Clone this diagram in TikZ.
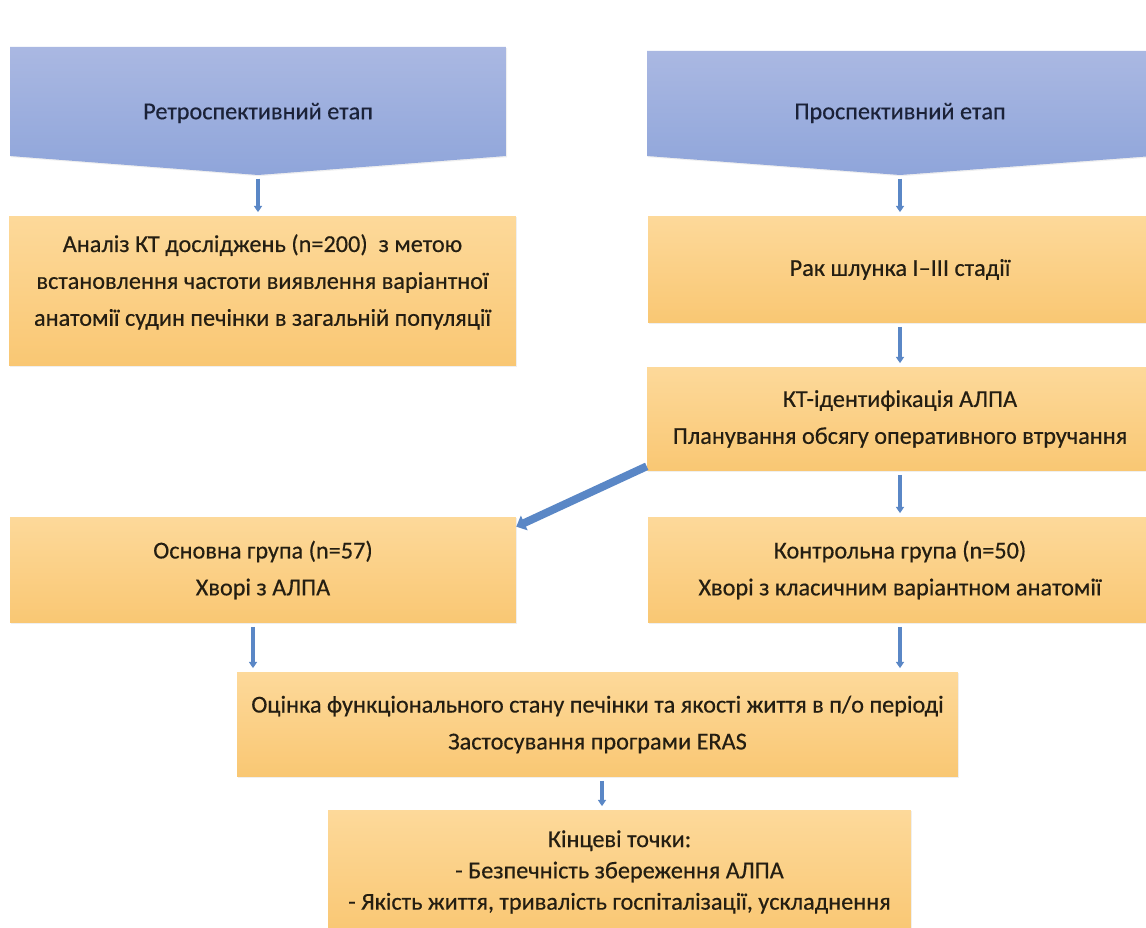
\documentclass[tikz,border=0pt]{standalone}
\usepackage{fontspec}
\setmainfont{Carlito}
\newfontfamily\chartfont{Carlito}[FakeBold=0.4]
\usepackage{xcolor}
\usetikzlibrary{arrows.meta, shadows, calc}

\definecolor{stagetop}{HTML}{AAB8E2}
\definecolor{stagebot}{HTML}{8FA5DA}
\definecolor{boxtop}{HTML}{FDD99A}
\definecolor{boxbot}{HTML}{F9C773}
\definecolor{arrowblue}{HTML}{5A87C6}
\definecolor{inktext}{HTML}{241E12}
\definecolor{inkblue}{HTML}{1B2238}

\begin{document}
\begin{tikzpicture}[x=0.02cm, y=-0.02cm,
	stepbox/.style={rectangle, inner sep=0pt, top color=boxtop, bottom color=boxbot, text=inktext, align=center,
		font=\chartfont\fontsize{13.8}{21}\selectfont, drop shadow={opacity=0.12, shadow xshift=0.7pt, shadow yshift=-0.7pt}},
	boxtext/.style={inner sep=0pt, text=inktext, align=center, font=\chartfont\fontsize{13.8}{21}\selectfont},
	stage/.style={top color=stagetop, bottom color=stagebot, drop shadow={opacity=0.12, shadow xshift=0.7pt, shadow yshift=-0.7pt}},
	stagetext/.style={inner sep=0pt, text=inkblue, font=\chartfont\fontsize{13.8}{21}\selectfont},
	link/.style={draw=arrowblue, line width=2pt, -{Triangle[width=4.5pt,length=3.5pt]}, shorten <=2pt, shorten >=2pt},
	biglink/.style={draw=arrowblue, line width=4.5pt, -{Triangle[width=9pt,length=5pt]}}]
	\useasboundingbox (0,0) rectangle (1146,928);
	\clip (0,0) rectangle (1146,928);
	\fill[white] (0,0) rectangle (1146,928);

	% stages
	\path[stage] (10,47) -- (506,47) -- (506,156) -- (258,175) -- (10,156) -- cycle;
	\path[stage] (647,51) -- (1153,51) -- (1153,156) -- (900,175) -- (647,156) -- cycle;
	\coordinate (tipL) at (258,175);
	\coordinate (tipR) at (900,175);
	\node[stagetext] (retro) at (258,113) {Ретроспективний етап};
	\node[stagetext] (pro) at (900,113) {Проспективний етап};

	% boxes
	\node[stepbox, minimum width=10.14cm, minimum height=3cm] (b1) at (262.5,291) {};
	\node[boxtext] (t1) at ([yshift=0.18cm]b1.center) {Аналіз КТ досліджень (n=200)\ \ з метою\\встановлення частоти виявлення варіантної\\анатомії судин печінки в загальній популяції};
	\node[stepbox, minimum width=10.08cm, minimum height=2.14cm] (b2) at (900,269.5) {Рак шлунка I–III стадії};
	\node[stepbox, minimum width=10.12cm, minimum height=2.08cm] (b3) at (900,419) {КТ-ідентифікація АЛПА\\Планування обсягу оперативного втручання};
	\node[stepbox, minimum width=10.12cm, minimum height=2.12cm] (b4) at (263,570) {Основна група (n=57)\\Хворі з АЛПА};
	\node[stepbox, minimum width=10.08cm, minimum height=2.12cm] (b5) at (900,570) {Контрольна група (n=50)\\Хворі з класичним варіантном анатомії};
	\node[stepbox, minimum width=14.42cm, minimum height=2.1cm] (b6) at (597.5,724.5) {Оцінка функціонального стану печінки та якості життя в п/о періоді\\Застосування програми ERAS};
	\node[stepbox, minimum width=11.66cm, minimum height=2.48cm, font=\chartfont\fontsize{13.8}{17.8}\selectfont] (b7) at (619.5,872) {Кінцеві точки:\\- Безпечність збереження АЛПА\\- Якість життя, тривалість госпіталізації, ускладнення};

	% arrows
	\draw[link] (tipL) -- (tipL |- b1.north);
	\draw[link] (tipR) -- (tipR |- b2.north);
	\draw[link] (b2.south) -- (b3.north);
	\draw[link] (b3.south) -- (b5.north);
	\draw[biglink] ([yshift=0.1cm]b3.south west) -- ([yshift=-0.2cm]b4.north east);
	\draw[link] ([xshift=-0.2cm]b4.south) -- ([xshift=-0.2cm]b4.south |- b6.north);
	\draw[link] (b5.south) -- (b5.south |- b6.north);
	\draw[link] ([xshift=0.09cm]b6.south) -- ([xshift=0.09cm]b6.south |- b7.north);
\end{tikzpicture}
\end{document}
